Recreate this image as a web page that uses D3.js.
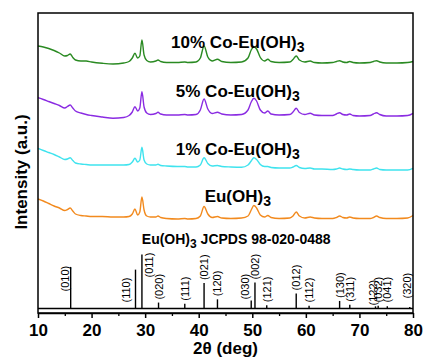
<!DOCTYPE html>
<html>
<head>
<meta charset="utf-8">
<script src="https://cdn.jsdelivr.net/npm/d3@7"></script>
<style>
  html, body { margin: 0; padding: 0; background: #fff; }
  svg { display: block; font-family: "Liberation Sans", Arial, sans-serif; }
</style>
</head>
<body>
<svg id="chart" width="423" height="358"></svg>
<script>
// 2θ grid the patterns were read on
const twoTheta = [10, 11, 12, 13, 14, 15, 15.5, 16, 16.5, 17, 18, 19, 20, 22, 24, 26, 27, 27.6, 28.1, 28.6,
  29.0, 29.4, 29.8, 30.3, 31, 32, 32.4, 32.9, 34, 36, 37.4, 38, 39.5, 40.3, 41, 41.7, 42.5, 43.5, 44.3,
  46, 48, 49.2, 49.8, 50.3, 50.8, 51.5, 52.3, 52.9, 53.5, 55, 57, 57.6, 58.2, 58.8, 59.8, 60.8, 61.6,
  63, 65, 65.7, 66.3, 66.9, 67.6, 68.2, 68.8, 70, 72, 72.6, 73.2, 73.8, 75, 77, 79, 80];

// intensities (a.u.), each above its own zero
const euOH3 = [20, 18, 15.5, 13, 11, 8.5, 9.5, 11, 8, 5, 3.5, 3, 2.5, 2.5, 2, 2, 2.5, 5, 10, 4,
  7, 22, 9, 3, 2, 2, 3, 1.5, 0.5, 0, 0.5, 0, 0.5, 3, 12.5, 5, 1.5, 2.5, 1,
  0.5, 1, 3, 9, 13.5, 11, 4, 2, 3.5, 1.5, 0.5, 1, 3, 7, 3, 1, 2, 1,
  0.5, 0.5, 1.5, 3, 1.5, 1, 2, 1, 0.5, 0.5, 1.5, 3, 1.5, 0.5, 0.5, 1, 3.5];
const co1 = [21.7, 19.5, 17.5, 15.5, 13, 10.5, 11, 12.3, 9.5, 7, 6, 5.5, 5, 5, 5, 5, 5.5, 8, 11.7, 8,
  10, 22.7, 10, 6, 5, 5, 5.7, 4.5, 4, 3.5, 3.5, 3, 3, 5, 12.3, 6.5, 4, 4.5, 3.5,
  3, 2.7, 5, 9, 12.3, 10.5, 5.5, 3.5, 3.5, 2.5, 2, 2, 3, 4.5, 2.5, 1.5, 2, 1,
  1, 0.5, 1, 2, 1, 0.5, 1, 0.5, 0, 0, 1, 2, 0.5, 0, 0, 0, 1.7];
const co5 = [19.3, 17.5, 15.5, 13.5, 11.5, 9, 10.5, 12, 9, 6, 4, 2.5, 1.5, 0, -1.3, -0.5, 1.5, 5, 10.3, 6,
  9, 25.3, 10, 4, 2.5, 3.5, 4.7, 3, 2, 2, 2.5, 2, 2.5, 7, 18, 8, 3.5, 4.7, 3,
  2, 2.5, 7, 15, 18.7, 16, 7, 4, 6, 3, 2, 2.5, 5, 8.7, 4.5, 2.5, 3.7, 2,
  1.5, 1.5, 3, 4.3, 2.5, 2, 3, 1.5, 1, 1.5, 3, 4.3, 2.5, 1, 1, 1.5, 3.7];
const co10 = [18, 17, 15.5, 13.5, 11, 8, 8.5, 10, 6.5, 4, 3, 3, 2, 0.7, 0, 1, 2.5, 6, 10.7, 6,
  8, 24, 9, 3.5, 2, 3, 4, 2.5, 1.5, 1.5, 2, 1.5, 2, 6, 18, 7, 3, 4.7, 2.5,
  1.5, 2, 6, 14, 17.3, 15, 6.5, 3, 4.7, 2.5, 1.5, 2, 4.5, 8, 4, 2, 3, 1.5,
  1, 1.5, 2.5, 3.3, 2, 1.5, 2.5, 1.5, 1, 1.5, 2.5, 3.3, 2, 1, 1, 1.5, 2.5];

const seriesNames = ['Eu(OH)', '1% Co-Eu(OH)', '5% Co-Eu(OH)', '10% Co-Eu(OH)'];
const seriesValues = [euOH3, co1, co5, co10];
const seriesOffset = [94, 143, 196, 249];

// reference pattern, Eu(OH)3 JCPDS 98-020-0488
const refHkl = ['(010)', '(110)', '(011)', '(020)', '(111)', '(021)', '(120)', '(030)', '(002)',
  '(121)', '(012)', '(112)', '(130)', '(311)', '(122)', '(032)', '(041)', '(320)'];
const refPos = [16.1, 28.2, 29.4, 32.5, 37.4, 41.0, 43.5, 49.8, 50.5,
  52.7, 58.2, 60.6, 66.3, 68.2, 73.0, 73.5, 75.2, 79.4];
const refInt = [77, 72, 100, 11, 9, 47, 17, 15, 48,
  6, 28, 5, 14, 7, 4, 5, 4, 3];

const xTicks = [10, 20, 30, 40, 50, 60, 70, 80];

// layout
const colors = ['#f28a1e', '#3fe3ee', '#8a2be2', '#2a8a22'];
const labelLift = [17, 15, 20, 16];
const hklNudge = { '(010)': [-6, 17], '(110)': [-10, 6], '(011)': [7, 31], '(030)': [-6, 9],
  '(122)': [-3, 3], '(320)': [-3, 10] };
const margin = { top: 13, right: 10, bottom: 45, left: 38 };
const font = '"Liberation Sans", Arial, sans-serif';

const svg = d3.select('#chart');
const width = +svg.attr('width');
const height = +svg.attr('height');
const plotW = width - margin.left - margin.right;
const plotH = height - margin.top - margin.bottom;

const x = d3.scaleLinear().domain([10, 80]).range([0, plotW]);
const y = d3.scaleLinear().domain([0, 300]).range([plotH, 0]);
const stickBase = plotH - 4.5;
const yStick = d3.scaleLinear().domain([0, 100]).range([stickBase, stickBase - 54]);

const g = svg.append('g').attr('transform', `translate(${margin.left},${margin.top})`);

// patterns
seriesValues.forEach((vals, i) => {
  const line = d3.line()
    .x((d, j) => x(twoTheta[j]))
    .y((d) => y(d + seriesOffset[i]))
    .curve(d3.curveMonotoneX);
  g.append('path')
    .datum(vals)
    .attr('fill', 'none')
    .attr('stroke', colors[i])
    .attr('stroke-width', 1.4)
    .attr('stroke-linejoin', 'round')
    .attr('d', line);

  const t = g.append('text')
    .attr('x', x(47.3))
    .attr('y', y(seriesOffset[i] + labelLift[i]))
    .attr('text-anchor', 'middle')
    .style('font-size', '17px')
    .style('font-weight', 'bold')
    .style('font-family', font)
    .text(seriesNames[i]);
  t.append('tspan').attr('dy', 4).style('font-size', '14px').text('3');
});

// reference sticks
g.append('line')
  .attr('x1', 0).attr('x2', plotW)
  .attr('y1', stickBase).attr('y2', stickBase)
  .attr('stroke', '#000').attr('stroke-width', 1.3);

g.selectAll('.stick')
  .data(refPos)
  .enter()
  .append('line')
  .attr('class', 'stick')
  .attr('x1', (d) => x(d)).attr('x2', (d) => x(d))
  .attr('y1', stickBase)
  .attr('y2', (d, i) => yStick(refInt[i]))
  .attr('stroke', '#000')
  .attr('stroke-width', 1.4);

g.selectAll('.hkl')
  .data(refHkl)
  .enter()
  .append('text')
  .attr('class', 'hkl')
  .attr('transform', (d, i) => {
    const nudge = hklNudge[d];
    const cx = x(refPos[i]) + (nudge ? nudge[0] : 0);
    const by = nudge ? stickBase - nudge[1] : Math.min(yStick(refInt[i]) - 3, stickBase - 6);
    return `translate(${cx + 4},${by})rotate(-90)`;
  })
  .attr('text-anchor', 'start')
  .style('font-size', '11px')
  .style('font-family', font)
  .text((d) => d);

const ref = g.append('text')
  .attr('x', x(47))
  .attr('y', plotH - 69)
  .attr('text-anchor', 'middle')
  .style('font-size', '14px')
  .style('font-weight', 'bold')
  .style('font-family', font)
  .text('Eu(OH)');
ref.append('tspan').attr('dy', 4).style('font-size', '12px').text('3');
ref.append('tspan').attr('dy', -4).text(' JCPDS 98-020-0488');

// frame
g.append('rect')
  .attr('width', plotW).attr('height', plotH)
  .attr('fill', 'none')
  .attr('stroke', '#000')
  .attr('stroke-width', 1.5);

// x axis
const minor = g.append('g')
  .attr('transform', `translate(0,${plotH})`)
  .call(d3.axisBottom(x).tickValues(d3.range(15, 80, 10)).tickSize(3).tickFormat(''));
minor.select('.domain').remove();
minor.selectAll('line').attr('stroke-width', 1.3);

const xAxis = g.append('g')
  .attr('transform', `translate(0,${plotH})`)
  .call(d3.axisBottom(x).tickValues(xTicks).tickSize(5).tickPadding(6).tickSizeOuter(0));
xAxis.select('.domain').attr('stroke-width', 1.5);
xAxis.selectAll('line').attr('stroke-width', 1.5);
xAxis.selectAll('text')
  .style('font-size', '17px')
  .style('font-weight', 'bold')
  .style('font-family', font);

g.append('text')
  .attr('x', plotW / 2)
  .attr('y', plotH + 41)
  .attr('text-anchor', 'middle')
  .style('font-size', '17px')
  .style('font-weight', 'bold')
  .style('font-family', font)
  .text('2θ (deg)');

g.append('text')
  .attr('transform', `translate(${-margin.left + 27},${159})rotate(-90)`)
  .attr('text-anchor', 'middle')
  .style('font-size', '17px')
  .style('font-weight', 'bold')
  .style('font-family', font)
  .text('Intensity (a.u.)');
</script>
</body>
</html>
